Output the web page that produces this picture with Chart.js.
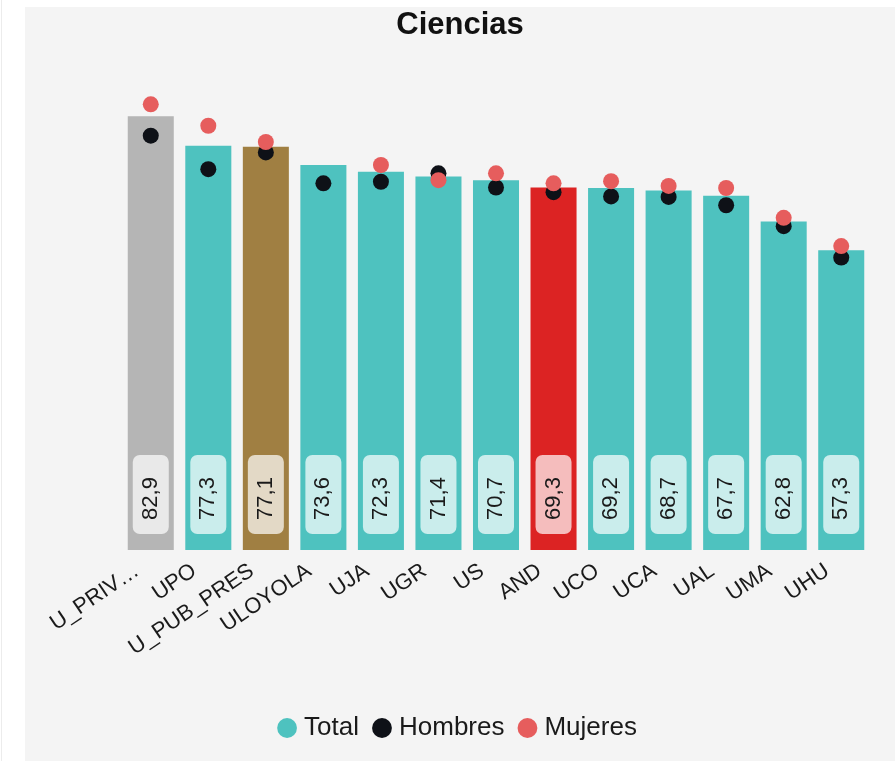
<!DOCTYPE html>
<html>
<head>
<meta charset="utf-8">
<script src="https://cdn.jsdelivr.net/npm/chart.js@4"></script>
<style>
  html, body { margin: 0; padding: 0; background: #ffffff; width: 895px; height: 761px; overflow: hidden; }
  #edge { position: absolute; left: 1px; top: 0; width: 1px; height: 761px; background: #ececec; }
  #panel { position: absolute; left: 25px; top: 7px; width: 870px; height: 754px; background: #f4f4f4; }
  canvas { display: block; }
</style>
</head>
<body>
<div id="edge"></div>
<div id="panel"><canvas id="c" width="870" height="754"></canvas></div>
<script>
const categories = ["U_PRIV\u2026", "UPO", "U_PUB_PRES", "ULOYOLA", "UJA", "UGR", "US", "AND", "UCO", "UCA", "UAL", "UMA", "UHU"];
const total   = [82.9, 77.3, 77.1, 73.6, 72.3, 71.4, 70.7, 69.3, 69.2, 68.7, 67.7, 62.8, 57.3];
const hombres = [79.2, 72.8, 76.0, 70.1, 70.4, 72.0, 69.3, 68.4, 67.6, 67.5, 65.9, 61.9, 55.9];
const mujeres = [85.2, 81.1, 78.0, null, 73.6, 70.7, 72.0, 70.1, 70.5, 69.6, 69.2, 63.5, 58.1];

const TEAL = '#4ec2bf', GREY = '#b5b5b5', BROWN = '#a07f42', RED = '#dc2323';
const BLACK = '#0e1117', PINK = '#e65d5d';
const barColors = categories.map(c => c.startsWith('U_PRIV') ? GREY : c === 'U_PUB_PRES' ? BROWN : c === 'AND' ? RED : TEAL);

const FONT = "'Liberation Sans', Arial, sans-serif";

const barLabels = {
  id: 'barLabels',
  afterDatasetsDraw(chart) {
    const meta = chart.getDatasetMeta(0);
    const ctx = chart.ctx;
    ctx.save();
    meta.data.forEach((bar, i) => {
      const base = bar.base;
      const w = 36, h = 79;
      const cx = bar.x, cy = base - 16 - h / 2;
      ctx.fillStyle = 'rgba(255,255,255,0.7)';
      ctx.beginPath();
      ctx.roundRect(cx - w / 2, cy - h / 2, w, h, 7);
      ctx.fill();
      ctx.translate(cx, cy + 4);
      ctx.rotate(-Math.PI / 2);
      ctx.fillStyle = '#1a1a1a';
      ctx.font = "22px " + FONT;
      ctx.textAlign = 'center';
      ctx.textBaseline = 'middle';
      ctx.fillText(total[i].toFixed(1).replace('.', ','), 0, 0);
      ctx.setTransform(1, 0, 0, 1, 0, 0);
    });
    ctx.restore();
  }
};

new Chart(document.getElementById('c'), {
  data: {
    labels: categories,
    datasets: [
      { type: 'bar', label: 'Total', data: total, backgroundColor: barColors, order: 3,
        barPercentage: 1, categoryPercentage: 0.8 },
      { type: 'line', label: 'Hombres', data: hombres, showLine: false, order: 2,
        backgroundColor: BLACK, borderColor: BLACK, pointRadius: 8, pointBorderWidth: 0, pointHoverRadius: 8 },
      { type: 'line', label: 'Mujeres', data: mujeres, showLine: false, order: 1,
        backgroundColor: PINK, borderColor: PINK, pointRadius: 8, pointBorderWidth: 0, pointHoverRadius: 8 }
    ]
  },
  options: {
    responsive: false,
    animation: false,
    layout: { padding: { left: 0, right: 0, top: 0, bottom: 10 } },
    plugins: {
      title: { display: true, text: 'Ciencias', color: '#111111',
        font: { family: FONT, size: 31, weight: 'bold' }, padding: { top: 0, bottom: 35 } },
      legend: { position: 'bottom',
        labels: { usePointStyle: true, pointStyle: 'circle', boxWidth: 8, boxHeight: 14, padding: 19,
          color: '#1a1a1a', font: { family: FONT, size: 26 },
          sort: (a, b) => a.datasetIndex - b.datasetIndex,
          generateLabels: (chart) => {
            const items = Chart.defaults.plugins.legend.labels.generateLabels(chart);
            items.forEach(it => { if (it.datasetIndex === 0) { it.fillStyle = TEAL; it.strokeStyle = TEAL; } it.lineWidth = 0; });
            return items;
          } } },
      tooltip: { enabled: false }
    },
    scales: {
      x: {
        grid: { display: false, drawTicks: false }, border: { display: false },
        ticks: { color: '#1a1a1a', font: { family: FONT, size: 22 }, minRotation: 34, maxRotation: 34, autoSkip: false, padding: 8, labelOffset: -14 },
        afterFit: (s) => { s.height = 146; }
      },
      y: { display: true, min: 0, max: 90,
        grid: { display: false, drawTicks: false }, border: { display: false },
        ticks: { display: false },
        afterFit: (s) => { s.width = 97; } },
      yRight: { display: true, position: 'right', min: 0, max: 90,
        grid: { display: false, drawTicks: false }, border: { display: false },
        ticks: { display: false },
        afterFit: (s) => { s.width = 25; } }
    }
  },
  plugins: [barLabels]
});
</script>
</body>
</html>
